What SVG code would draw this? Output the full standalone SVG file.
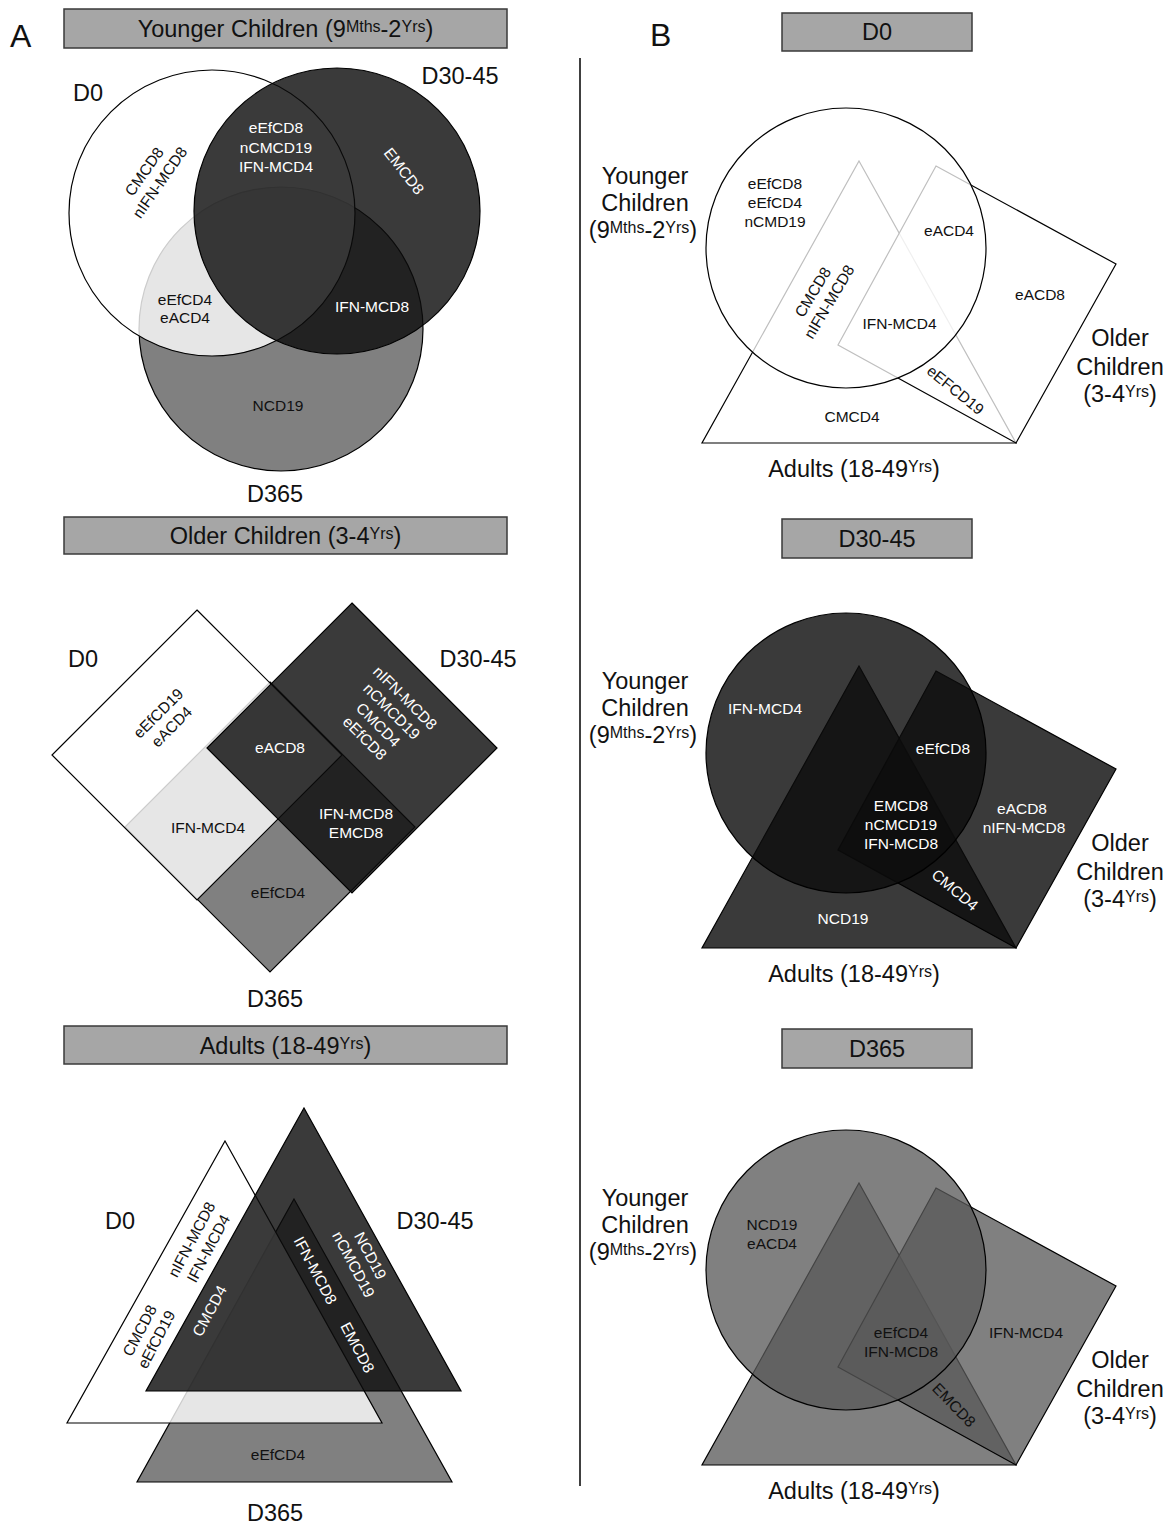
<svg xmlns="http://www.w3.org/2000/svg" width="1172" height="1523" viewBox="0 0 1172 1523">
<style>
text{font-family:"Liberation Sans",Arial,Helvetica,sans-serif}
.big{font-size:23.5px;fill:#111}
.mid{text-anchor:middle}
.sm{font-size:15.5px;text-anchor:middle}
.k{fill:#111}
.w{fill:#fff}
.sup{font-size:16px}
.lbl{font-size:32px;fill:#111}
.hdr{fill:#a6a6a6;stroke:#3a3a3a;stroke-width:1.5}
.s{stroke:#000;stroke-width:1.2}
.g{fill:#808080}
.wh{fill:#fff;fill-opacity:0.8}
.dk{fill:#0c0c0c;fill-opacity:0.81}
.bw{fill:#fff;fill-opacity:0.75}
.bg{fill:#595959;fill-opacity:0.764}
</style>
<rect width="1172" height="1523" fill="#fff"/>

<g id="panel-labels">
<text class="lbl" x="10" y="47">A</text>
<text class="lbl" x="650" y="46">B</text>
</g>

<g id="connectors">
<line x1="580" y1="58" x2="580" y2="1486" stroke="#000" stroke-width="1.5"/>
</g>

<!-- A: Younger children Venn -->
<g id="A-younger">
<rect class="hdr" x="64" y="9" width="443" height="39"/>
<text class="big mid" x="285.5" y="36.5">Younger Children (9<tspan class="sup" dy="-5">Mths</tspan><tspan dy="5">-2</tspan><tspan class="sup" dy="-5">Yrs</tspan><tspan dy="5">)</tspan></text>
<circle class="s g" cx="281" cy="329" r="142"/>
<circle class="s wh" cx="212" cy="213" r="143"/>
<circle class="s dk" cx="337" cy="211" r="143"/>
<text class="big mid" x="88" y="100.5">D0</text>
<text class="big mid" x="460" y="84">D30-45</text>
<text class="big mid" x="275" y="502">D365</text>
<text class="sm w"><tspan x="276" y="133">eEfCD8</tspan><tspan x="276" y="152.5">nCMCD19</tspan><tspan x="276" y="172">IFN-MCD4</tspan></text>
<g transform="translate(152,177) rotate(-55)"><text class="sm k"><tspan x="0" y="-4.1">CMCD8</tspan><tspan x="0" y="14.9">nIFN-MCD8</tspan></text></g>
<g transform="translate(404,171) rotate(52)"><text class="sm w" x="0" y="5.4">EMCD8</text></g>
<text class="sm k"><tspan x="185" y="305">eEfCD4</tspan><tspan x="185" y="323">eACD4</tspan></text>
<text class="sm w" x="372" y="312">IFN-MCD8</text>
<text class="sm k" x="278" y="411">NCD19</text>
</g>

<!-- A: Older children diamonds -->
<g id="A-older">
<rect class="hdr" x="64" y="517" width="443" height="37"/>
<text class="big mid" x="285.5" y="544">Older Children (3-4<tspan class="sup" dy="-5">Yrs</tspan><tspan dy="5">)</tspan></text>
<polygon class="s g" points="270,682 415,827 270,972 125,827"/>
<polygon class="s wh" points="197,610 342,755 197,900 52,755"/>
<polygon class="s dk" points="352,603 497,748 352,893 207,748"/>
<text class="big mid" x="83" y="667">D0</text>
<text class="big mid" x="478" y="667">D30-45</text>
<text class="big mid" x="275" y="1007">D365</text>
<g transform="translate(165,720) rotate(-45)"><text class="sm k"><tspan x="0" y="-4.1">eEfCD19</tspan><tspan x="0" y="14.9">eACD4</tspan></text></g>
<g transform="translate(385,718) rotate(45)"><text class="sm w"><tspan x="0" y="-23.1">nIFN-MCD8</tspan><tspan x="0" y="-4.1">nCMCD19</tspan><tspan x="0" y="14.9">CMCD4</tspan><tspan x="0" y="33.9">eEfCD8</tspan></text></g>
<text class="sm w" x="280" y="752.5">eACD8</text>
<text class="sm k" x="208" y="832.5">IFN-MCD4</text>
<text class="sm w"><tspan x="356" y="818.5">IFN-MCD8</tspan><tspan x="356" y="838">EMCD8</tspan></text>
<text class="sm k" x="278" y="897.5">eEfCD4</text>
</g>

<!-- A: Adults triangles -->
<g id="A-adults">
<rect class="hdr" x="64" y="1026" width="443" height="38"/>
<text class="big mid" x="285.5" y="1054">Adults (18-49<tspan class="sup" dy="-5">Yrs</tspan><tspan dy="5">)</tspan></text>
<polygon class="s g" points="294,1199 452,1482 137,1482"/>
<polygon class="s wh" points="225,1141 382,1423 67,1423"/>
<polygon class="s dk" points="304,1108 461,1391 146,1391"/>
<text class="big mid" x="120" y="1228.5">D0</text>
<text class="big mid" x="435" y="1228.5">D30-45</text>
<text class="big mid" x="275" y="1521">D365</text>
<g transform="translate(200,1244) rotate(-62)"><text class="sm k"><tspan x="0" y="-4.1">nIFN-MCD8</tspan><tspan x="0" y="14.9">IFN-MCD4</tspan></text></g>
<g transform="translate(148,1335) rotate(-62)"><text class="sm k"><tspan x="0" y="-4.1">CMCD8</tspan><tspan x="0" y="14.9">eEfCD19</tspan></text></g>
<g transform="translate(209.5,1311) rotate(-62)"><text class="sm w" x="0" y="5.4">CMCD4</text></g>
<g transform="translate(315.5,1270.5) rotate(62)"><text class="sm w" x="0" y="5.4">IFN-MCD8</text></g>
<g transform="translate(362,1260) rotate(62)"><text class="sm w"><tspan x="0" y="-4.1">NCD19</tspan><tspan x="0" y="14.9">nCMCD19</tspan></text></g>
<g transform="translate(357.5,1347.5) rotate(62)"><text class="sm w" x="0" y="5.4">EMCD8</text></g>
<text class="sm k" x="278" y="1459.5">eEfCD4</text>
</g>

<!-- B: D0 -->
<g id="B-D0">
<rect class="hdr" x="782" y="13" width="190" height="38"/>
<text class="big mid" x="877" y="40">D0</text>
<polygon class="s" fill="#fff" points="859,161 1016,443 702,443"/>
<polygon class="s bw" points="936,166 1116,264 1016,443 838,345"/>
<circle class="s bw" cx="846" cy="248" r="140"/>
<text class="big mid"><tspan x="645" y="184">Younger</tspan><tspan x="645" y="211">Children</tspan><tspan x="643" y="238">(9<tspan class="sup" dy="-5">Mths</tspan><tspan dy="5">-2</tspan><tspan class="sup" dy="-5">Yrs</tspan><tspan dy="5">)</tspan></tspan></text>
<text class="big mid"><tspan x="1120" y="346">Older</tspan><tspan x="1120" y="374.5">Children</tspan><tspan x="1120" y="401.5">(3-4<tspan class="sup" dy="-5">Yrs</tspan><tspan dy="5">)</tspan></tspan></text>
<text class="big mid" x="854" y="477">Adults (18-49<tspan class="sup" dy="-5">Yrs</tspan><tspan dy="5">)</tspan></text>
<text class="sm k"><tspan x="775" y="188.5">eEfCD8</tspan><tspan x="775" y="207.5">eEfCD4</tspan><tspan x="775" y="226.5">nCMD19</tspan></text>
<text class="sm k" x="949" y="235.5">eACD4</text>
<text class="sm k" x="1040" y="299.5">eACD8</text>
<g transform="translate(821,297) rotate(-59)"><text class="sm k"><tspan x="0" y="-4.1">CMCD8</tspan><tspan x="0" y="14.9">nIFN-MCD8</tspan></text></g>
<text class="sm k" x="899.5" y="329">IFN-MCD4</text>
<g transform="translate(955.5,390) rotate(39)"><text class="sm k" x="0" y="5.4">eEFCD19</text></g>
<text class="sm k" x="852" y="422">CMCD4</text>
</g>

<!-- B: D30-45 -->
<g id="B-D30-45">
<rect class="hdr" x="782" y="519" width="190" height="39"/>
<text class="big mid" x="877" y="547">D30-45</text>
<g transform="translate(0,505)">
<polygon class="s dk" points="859,161 1016,443 702,443"/>
<polygon class="s dk" points="936,166 1116,264 1016,443 838,345"/>
<circle class="s dk" cx="846" cy="248" r="140"/>
<text class="big mid"><tspan x="645" y="184">Younger</tspan><tspan x="645" y="211">Children</tspan><tspan x="643" y="238">(9<tspan class="sup" dy="-5">Mths</tspan><tspan dy="5">-2</tspan><tspan class="sup" dy="-5">Yrs</tspan><tspan dy="5">)</tspan></tspan></text>
<text class="big mid"><tspan x="1120" y="346">Older</tspan><tspan x="1120" y="374.5">Children</tspan><tspan x="1120" y="401.5">(3-4<tspan class="sup" dy="-5">Yrs</tspan><tspan dy="5">)</tspan></tspan></text>
<text class="big mid" x="854" y="477">Adults (18-49<tspan class="sup" dy="-5">Yrs</tspan><tspan dy="5">)</tspan></text>
<text class="sm w" x="765" y="208.5">IFN-MCD4</text>
<text class="sm w" x="943" y="248.5">eEfCD8</text>
<text class="sm w"><tspan x="901" y="305.5">EMCD8</tspan><tspan x="901" y="324.5">nCMCD19</tspan><tspan x="901" y="343.5">IFN-MCD8</tspan></text>
<text class="sm w"><tspan x="1022" y="308.5">eACD8</tspan><tspan x="1024" y="328">nIFN-MCD8</tspan></text>
<g transform="translate(955,385) rotate(40)"><text class="sm w" x="0" y="5.4">CMCD4</text></g>
<text class="sm w" x="843" y="418.5">NCD19</text>
</g>
</g>

<!-- B: D365 -->
<g id="B-D365">
<rect class="hdr" x="782" y="1029" width="190" height="39"/>
<text class="big mid" x="877" y="1057">D365</text>
<g transform="translate(0,1022)">
<polygon class="s bg" points="859,161 1016,443 702,443"/>
<polygon class="s bg" points="936,166 1116,264 1016,443 838,345"/>
<circle class="s bg" cx="846" cy="248" r="140"/>
<text class="big mid"><tspan x="645" y="184">Younger</tspan><tspan x="645" y="211">Children</tspan><tspan x="643" y="238">(9<tspan class="sup" dy="-5">Mths</tspan><tspan dy="5">-2</tspan><tspan class="sup" dy="-5">Yrs</tspan><tspan dy="5">)</tspan></tspan></text>
<text class="big mid"><tspan x="1120" y="346">Older</tspan><tspan x="1120" y="374.5">Children</tspan><tspan x="1120" y="401.5">(3-4<tspan class="sup" dy="-5">Yrs</tspan><tspan dy="5">)</tspan></tspan></text>
<text class="big mid" x="854" y="477">Adults (18-49<tspan class="sup" dy="-5">Yrs</tspan><tspan dy="5">)</tspan></text>
<text class="sm k"><tspan x="772" y="207.5">NCD19</tspan><tspan x="772" y="226.5">eACD4</tspan></text>
<text class="sm k"><tspan x="901" y="315.5">eEfCD4</tspan><tspan x="901" y="335">IFN-MCD8</tspan></text>
<text class="sm k" x="1026" y="315.5">IFN-MCD4</text>
<g transform="translate(954,383) rotate(46)"><text class="sm k" x="0" y="5.4">EMCD8</text></g>
</g>
</g>
</svg>
